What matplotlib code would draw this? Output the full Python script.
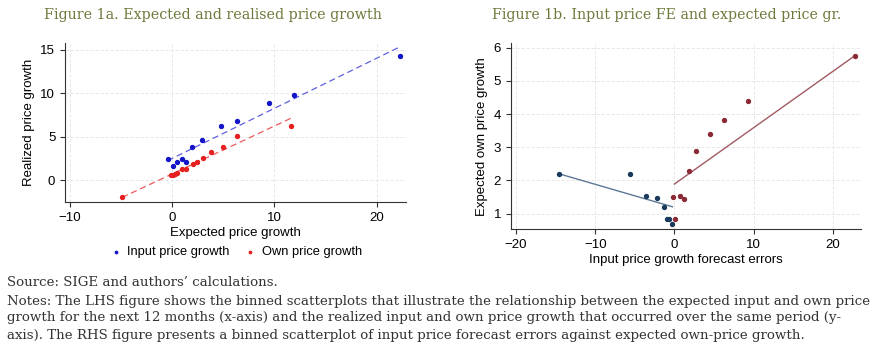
import numpy as np
import matplotlib
matplotlib.use("Agg")
from matplotlib import pyplot as plt

# ---------------- Data ----------------
# Figure 1a: expected vs realised growth, binned
input_exp = [-0.42, 0.13, 0.52, 0.98, 1.37, 1.99, 2.90, 4.76, 6.35, 9.45, 11.92, 22.28]
input_real = [2.42, 1.69, 2.08, 2.46, 2.08, 3.81, 4.58, 6.27, 6.85, 8.85, 9.81, 14.23]
own_exp = [-4.89, -0.13, 0.07, 0.26, 0.52, 1.00, 1.37, 2.02, 2.41, 3.00, 3.84, 5.01, 6.35, 11.60]
own_real = [-1.96, 0.57, 0.57, 0.69, 0.87, 1.26, 1.26, 1.87, 2.14, 2.60, 3.22, 3.86, 5.08, 6.27]
# fitted lines (intercept, slope)
input_fit = (2.51, 0.575)
own_fit = (0.73, 0.55)

# Figure 1b: input price forecast errors vs expected own price growth
neg_fe = [-14.53, -5.60, -3.54, -2.19, -1.26, -0.97, -0.63, -0.25]
neg_own = [2.20, 2.20, 1.54, 1.47, 1.19, 0.83, 0.84, 0.68]
pos_fe = [-0.13, 0.13, 0.72, 1.22, 1.85, 2.74, 4.46, 6.27, 9.35, 22.82]
pos_own = [1.51, 0.84, 1.54, 1.43, 2.28, 2.89, 3.40, 3.82, 4.38, 5.75]
neg_fit = (1.19, -0.0693)
pos_fit = (1.89, 0.1696)

title_a = "Figure 1a. Expected and realised price growth"
title_b = "Figure 1b. Input price FE and expected price gr."
notes = [
    "Source: SIGE and authors\u2019 calculations.",
    "Notes: The LHS figure shows the binned scatterplots that illustrate the relationship between the expected input and own price",
    "growth for the next 12 months (x-axis) and the realized input and own price growth that occurred over the same period (y-",
    "axis). The RHS figure presents a binned scatterplot of input price forecast errors against expected own-price growth.",
]

plt.rcParams['font.family'] = ['Liberation Sans', 'DejaVu Sans']

fig = plt.figure(figsize=(8.81, 3.57), dpi=100)
fig.patch.set_facecolor("white")


def style_axis(ax):
    for s in ("top", "right"):
        ax.spines[s].set_visible(False)
    for s in ("left", "bottom"):
        ax.spines[s].set_color("#333333")
        ax.spines[s].set_linewidth(0.8)
    ax.tick_params(labelsize=9.5, color="#333333", length=3.5, width=0.8)
    ax.grid(True, color="#e4e4e4", linewidth=0.6, linestyle=(0, (4, 2)))
    ax.set_axisbelow(True)


def fit_line(ax, xs, fit, **kw):
    xx = np.array([min(xs), max(xs)])
    ax.plot(xx, fit[0] + fit[1] * xx, **kw)


# ---------------- Figure 1a ----------------
ax1 = fig.add_axes([0.0738, 0.434, 0.387, 0.446])
style_axis(ax1)
ax1.scatter(input_exp, input_real, s=8, color="#1414c8", zorder=3, label="Input price growth")
ax1.scatter(own_exp, own_real, s=8, color="#e62020", zorder=3, label="Own price growth")
fit_line(ax1, input_exp, input_fit, color="#6060e0", lw=0.9, ls=(0, (5, 3)))
fit_line(ax1, own_exp, own_fit, color="#ee5a5a", lw=0.9, ls=(0, (5, 3)))
ax1.set_xlim(-10.46, 22.87)
ax1.set_ylim(-2.49, 15.78)
ax1.set_xticks([-10, 0, 10, 20])
ax1.set_yticks([0, 5, 10, 15])
ax1.set_xlabel("Expected price growth", fontsize=9.5, labelpad=2)
ax1.set_ylabel("Realized price growth", fontsize=9.5, labelpad=4)
ax1.legend(loc="center", bbox_to_anchor=(0.491, -0.314), ncol=2, frameon=False,
           fontsize=9.3, handletextpad=-0.1, columnspacing=0.6, markerscale=0.6,
           borderpad=0.2)

# ---------------- Figure 1b ----------------
ax2 = fig.add_axes([0.5797, 0.3577, 0.3973, 0.521])
style_axis(ax2)
ax2.scatter(neg_fe, neg_own, s=8, color="#1a3a5c", zorder=3)
ax2.scatter(pos_fe, pos_own, s=8, color="#8b2a35", zorder=3)
fit_line(ax2, neg_fe, neg_fit, color="#5c7896", lw=1.0)
fit_line(ax2, [0, max(pos_fe)], pos_fit, color="#a05a62", lw=1.0)
ax2.set_xlim(-20.67, 23.54)
ax2.set_ylim(0.528, 6.13)
ax2.set_xticks([-20, -10, 0, 10, 20])
ax2.set_yticks([1, 2, 3, 4, 5, 6])
ax2.set_xlabel("Input price growth forecast errors", fontsize=9.5, labelpad=2)
ax2.set_ylabel("Expected own price growth", fontsize=9.5, labelpad=4)

# ---------------- Titles and notes ----------------
fig.text(213 / 881, 1 - 15 / 357, title_a, ha="center", va="center",
         family="DejaVu Serif", fontsize=10.3, color="#6b7a3a")
fig.text(667 / 881, 1 - 15 / 357, title_b, ha="center", va="center",
         family="DejaVu Serif", fontsize=10.2, color="#6b7a3a")

# size the notes so the long line spans the same width as in the original
renderer = fig.canvas.get_renderer()
probe = fig.text(0, 0, notes[1], family="DejaVu Serif", fontsize=10)
w = probe.get_window_extent(renderer).width
probe.remove()
note_size = 10 * 863 / w

for i, line in enumerate(notes):
    y = [283, 301, 318, 335][i]
    fig.text(7 / 881, 1 - y / 357, line, ha="left", va="center",
             family="DejaVu Serif", fontsize=note_size, color="#333333")

fig.savefig("out.png", dpi=100, facecolor="white")
